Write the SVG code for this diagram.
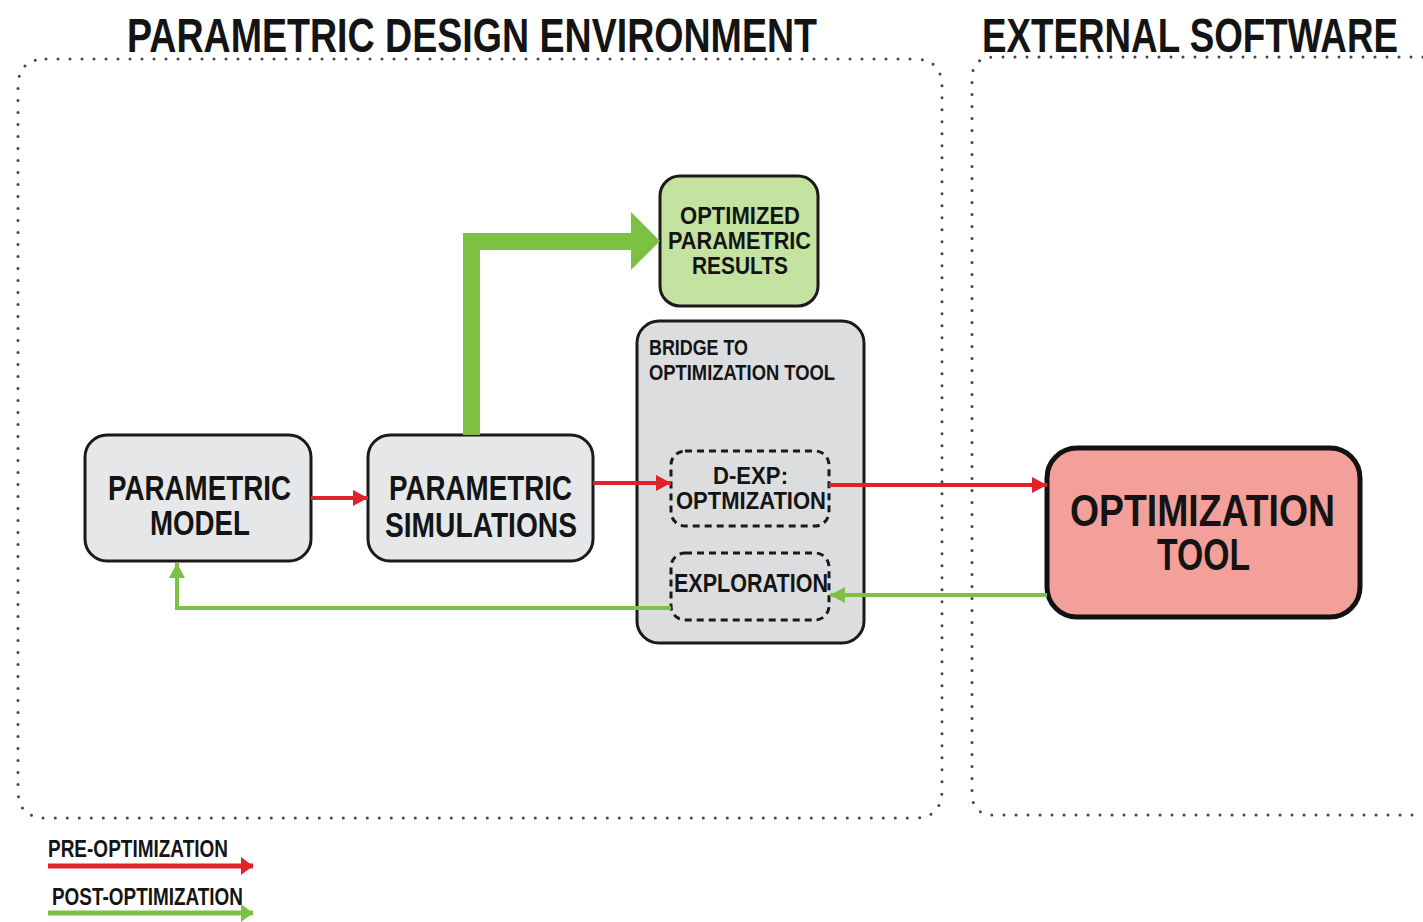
<svg xmlns="http://www.w3.org/2000/svg" width="1423" height="922" viewBox="0 0 1423 922">
  <style>
    .t { font-family: "Liberation Sans Narrow", "Liberation Sans", Arial, sans-serif; fill: #141414; }
    .title { font-size: 49px; font-weight: bold; }
    .lbl { font-size: 35px; font-weight: bold; }
    .box { fill: #e6e7e8; stroke: #1a1a1a; stroke-width: 3; }
    .dots { fill: none; stroke: #444444; stroke-width: 3; stroke-dasharray: 0 12; stroke-linecap: round; }
    .dash { fill: none; stroke: #1a1a1a; stroke-width: 3; stroke-dasharray: 7 5; }
    .red { fill: none; stroke: #e2222b; stroke-width: 4; }
    .green { fill: none; stroke: #7cc143; stroke-width: 4; }
  </style>
  <defs>
    <marker id="headRed" markerUnits="userSpaceOnUse" markerWidth="16" markerHeight="16" refX="15" refY="8" orient="auto">
      <path d="M0,0 L15,8 L0,16 Z" fill="#e2222b"/>
    </marker>
    <marker id="headGreen" markerUnits="userSpaceOnUse" markerWidth="16" markerHeight="16" refX="15" refY="8" orient="auto">
      <path d="M0,0 L15,8 L0,16 Z" fill="#7cc143"/>
    </marker>
    <marker id="legRed" markerUnits="userSpaceOnUse" markerWidth="14" markerHeight="20" refX="12" refY="10" orient="auto">
      <path d="M0,1 L12,10 L0,19 Z" fill="#e2222b"/>
    </marker>
    <marker id="legGreen" markerUnits="userSpaceOnUse" markerWidth="14" markerHeight="20" refX="12" refY="10" orient="auto">
      <path d="M0,1 L12,10 L0,19 Z" fill="#7cc143"/>
    </marker>
  </defs>

  <rect width="1423" height="922" fill="#ffffff"/>

  <!-- region frames -->
  <g id="regions">
    <path class="dots" d="M46,59 H914 Q942,59 942,87 V790 Q942,818 914,818 H46 Q18,818 18,790 V87 Q18,59 46,59 Z"/>
    <path class="dots" d="M1423,57 H994 Q972,57 972,79 V793 Q972,815 994,815 H1423"/>
    <text class="t title" x="127" y="52" textLength="690" lengthAdjust="spacingAndGlyphs">PARAMETRIC DESIGN ENVIRONMENT</text>
    <text class="t title" x="982" y="52" textLength="416" lengthAdjust="spacingAndGlyphs">EXTERNAL SOFTWARE</text>
  </g>

  <g id="parametric-model">
    <rect class="box" x="85" y="435" width="226" height="126" rx="22"/>
    <text class="t lbl" x="108" y="500" textLength="183" lengthAdjust="spacingAndGlyphs">PARAMETRIC</text>
    <text class="t lbl" x="150" y="535" textLength="100" lengthAdjust="spacingAndGlyphs">MODEL</text>
  </g>

  <g id="parametric-simulations">
    <rect class="box" x="368" y="435" width="225" height="126" rx="22"/>
    <text class="t lbl" x="389" y="500" textLength="183" lengthAdjust="spacingAndGlyphs">PARAMETRIC</text>
    <text class="t lbl" x="385" y="537" textLength="192" lengthAdjust="spacingAndGlyphs">SIMULATIONS</text>
  </g>

  <g id="optimized-results">
    <rect x="660" y="176" width="158" height="130" rx="20" fill="#c4e3a0" stroke="#1a1a1a" stroke-width="3"/>
    <text class="t" font-size="24" font-weight="bold" x="680" y="224" textLength="120" lengthAdjust="spacingAndGlyphs">OPTIMIZED</text>
    <text class="t" font-size="24" font-weight="bold" x="668" y="249" textLength="143" lengthAdjust="spacingAndGlyphs">PARAMETRIC</text>
    <text class="t" font-size="24" font-weight="bold" x="692" y="274" textLength="96" lengthAdjust="spacingAndGlyphs">RESULTS</text>
  </g>

  <g id="bridge">
    <rect x="637" y="321" width="227" height="322" rx="22" fill="#dcdddf" stroke="#1a1a1a" stroke-width="3"/>
    <text class="t" font-size="22" font-weight="bold" x="649" y="355" textLength="99" lengthAdjust="spacingAndGlyphs">BRIDGE TO</text>
    <text class="t" font-size="22" font-weight="bold" x="649" y="380" textLength="186" lengthAdjust="spacingAndGlyphs">OPTIMIZATION TOOL</text>
  </g>

  <g id="d-exp">
    <rect class="dash" x="671" y="451" width="158" height="75" rx="14"/>
    <text class="t" font-size="24" font-weight="bold" x="713" y="484" textLength="75" lengthAdjust="spacingAndGlyphs">D-EXP:</text>
    <text class="t" font-size="24" font-weight="bold" x="676" y="509" textLength="150" lengthAdjust="spacingAndGlyphs">OPTMIZATION</text>
  </g>

  <g id="exploration">
    <rect class="dash" x="671" y="553" width="158" height="67" rx="14"/>
    <text class="t" font-size="26" font-weight="bold" x="674" y="592" textLength="154" lengthAdjust="spacingAndGlyphs">EXPLORATION</text>
  </g>

  <g id="optimization-tool">
    <rect x="1047" y="448" width="313" height="169" rx="30" fill="#f4a09a" stroke="#111111" stroke-width="5"/>
    <text class="t" font-size="45" font-weight="bold" x="1070" y="526" textLength="265" lengthAdjust="spacingAndGlyphs">OPTIMIZATION</text>
    <text class="t" font-size="45" font-weight="bold" x="1157" y="570" textLength="93" lengthAdjust="spacingAndGlyphs">TOOL</text>
  </g>

  <!-- connectors -->
  <g id="connectors">
    <!-- thick green route to results -->
    <path d="M463,435 V233 H631 V212 L660,241 L631,270 V250 H480 V435 Z" fill="#7cc143"/>
    <line class="red" x1="311" y1="498" x2="368" y2="498" marker-end="url(#headRed)"/>
    <line class="red" x1="593" y1="483" x2="671" y2="483" marker-end="url(#headRed)"/>
    <line class="red" x1="829" y1="485" x2="1047" y2="485" marker-end="url(#headRed)"/>
    <line class="green" x1="1047" y1="595" x2="830" y2="595" marker-end="url(#headGreen)"/>
    <polyline class="green" points="671,608 177,608 177,563" marker-end="url(#headGreen)"/>
  </g>

  <g id="legend">
    <text class="t" font-size="24" font-weight="bold" x="48" y="857" textLength="180" lengthAdjust="spacingAndGlyphs">PRE-OPTIMIZATION</text>
    <line x1="48" y1="866" x2="253" y2="866" stroke="#e2222b" stroke-width="5" marker-end="url(#legRed)"/>
    <text class="t" font-size="24" font-weight="bold" x="52" y="905" textLength="191" lengthAdjust="spacingAndGlyphs">POST-OPTIMIZATION</text>
    <line x1="48" y1="913" x2="253" y2="913" stroke="#7cc143" stroke-width="5" marker-end="url(#legGreen)"/>
  </g>
</svg>
